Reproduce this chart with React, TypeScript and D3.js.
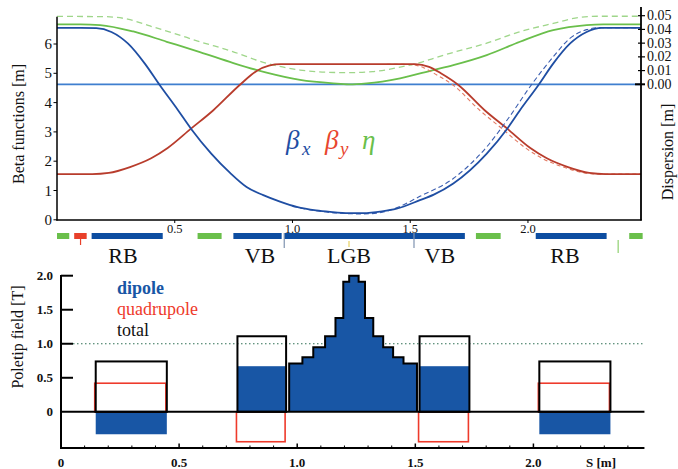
import React from "react";
import * as d3 from "d3";

// ---------- data ----------
// top panel: s [m], beta [m] / dispersion [m]
const betaX: [number, number][] = [[0,6.55],[0.10,6.55],[0.167,6.54],[0.231,6.41],[0.302,6.01],[0.373,5.33],[0.436,4.60],[0.514,3.74],[0.569,3.11],[0.655,2.26],[0.735,1.60],[0.805,1.12],[0.876,0.84],[0.947,0.62],[1.018,0.44],[1.10,0.32],[1.16,0.27],[1.24,0.23],[1.30,0.23],[1.38,0.29],[1.442,0.38],[1.541,0.67],[1.60,0.86],[1.683,1.24],[1.825,2.26],[1.912,3.11],[1.966,3.74],[2.044,4.59],[2.107,5.33],[2.178,6.01],[2.249,6.41],[2.313,6.55],[2.48,6.55]];
const betaXDesign: [number, number][] = [[1.0,0.46],[1.10,0.31],[1.16,0.25],[1.24,0.21],[1.30,0.20],[1.37,0.24],[1.44,0.40],[1.541,0.80],[1.683,1.41],[1.825,2.49],[1.92,3.50],[2.013,4.59],[2.107,5.56],[2.178,6.19],[2.249,6.49],[2.306,6.56],[2.48,6.55]];
const betaY: [number, number][] = [[0,1.56],[0.15,1.56],[0.22,1.60],[0.31,1.80],[0.40,2.10],[0.47,2.45],[0.569,3.11],[0.664,3.74],[0.777,4.61],[0.848,5.08],[0.90,5.26],[0.95,5.31],[1.24,5.31],[1.52,5.31],[1.58,5.22],[1.63,5.00],[1.703,4.61],[1.816,3.74],[1.912,3.11],[2.01,2.45],[2.08,2.10],[2.17,1.80],[2.26,1.60],[2.33,1.56],[2.48,1.56]];
const betaYDesign: [number, number][] = [[1.40,5.31],[1.50,5.30],[1.555,5.20],[1.605,4.98],[1.68,4.61],[1.795,3.74],[1.89,3.11],[1.99,2.45],[2.06,2.10],[2.15,1.80],[2.24,1.60],[2.31,1.56],[2.48,1.56]];
const eta: [number, number][] = [[0,0.0437],[0.10,0.0437],[0.183,0.0432],[0.324,0.0385],[0.466,0.031],[0.607,0.0235],[0.749,0.0155],[0.89,0.0085],[1.032,0.0032],[1.173,0.0007],[1.24,0.0],[1.315,0.0007],[1.457,0.0044],[1.598,0.0104],[1.683,0.014],[1.825,0.0213],[1.966,0.031],[2.107,0.0395],[2.249,0.0432],[2.32,0.0437],[2.48,0.0437]];
const etaDesign: [number, number][] = [[0,0.0495],[0.20,0.0493],[0.30,0.0475],[0.395,0.0425],[0.50,0.037],[0.607,0.031],[0.735,0.0245],[0.89,0.0153],[1.032,0.0104],[1.14,0.0088],[1.24,0.0085],[1.34,0.0092],[1.457,0.0125],[1.541,0.0158],[1.60,0.019],[1.669,0.0226],[1.825,0.030],[1.96,0.038],[2.107,0.0444],[2.22,0.0488],[2.31,0.0496],[2.48,0.0496]];

const betaTicks = [0, 1, 2, 3, 4, 5, 6];
const etaTicks = [0, 0.01, 0.02, 0.03, 0.04, 0.05];
const sTicksTop = [0.5, 1.0, 1.5, 2.0];

// lattice strip
const stripGreen: [number, number][] = [[0, 0.052], [0.597, 0.699], [1.779, 1.884], [2.43, 2.487]];
const stripRed: [number, number][] = [[0.073, 0.126]];
const stripBlue: [number, number][] = [[0.147, 0.449], [0.749, 0.954], [0.965, 1.732], [2.033, 2.334]];
const stripMarkers: { s: number; kind: string }[] = [{ s: 0.1, kind: "red" }, { s: 0.965, kind: "slate" }, { s: 1.24, kind: "yellow" }, { s: 1.516, kind: "slate" }, { s: 2.383, kind: "green" }];
const stripLabels: { s: number; name: string }[] = [{ s: 0.28, name: "RB" }, { s: 0.862, name: "VB" }, { s: 1.24, name: "LGB" }, { s: 1.626, name: "VB" }, { s: 2.157, name: "RB" }];

// bottom panel: magnets [s0, s1], dipole, quadrupole, total field [T]
const magnetStart = [0.147, 0.747, 1.518, 2.025];
const magnetEnd = [0.448, 0.953, 1.729, 2.326];
const magnetDipole = [-0.33, 0.67, 0.67, -0.33];
const magnetQuad = [0.42, -0.44, -0.44, 0.42];
const magnetTotal = [0.74, 1.11, 1.11, 0.74];
const lgbEdges = [0.966, 1.022, 1.068, 1.118, 1.162, 1.195, 1.220, 1.260, 1.287, 1.322, 1.364, 1.406, 1.450, 1.507];
const lgbField = [0.71, 0.80, 0.95, 1.11, 1.38, 1.91, 2.0, 1.91, 1.38, 1.11, 0.95, 0.80, 0.71];
const fieldTicks = [0, 0.5, 1.0, 1.5, 2.0];
const sTicksBottom = [0, 0.5, 1.0, 1.5, 2.0];

// ---------- styles ----------
const SERIF = "'Liberation Serif', 'Times New Roman', serif";
const C_BLUE = "#1f4ea3";
const C_RED = "#b83c2c";
const C_GREEN = "#6abf4b";
const C_GREEN_D = "#9fd68a";
const C_REF = "#3f7fcf";
const C_STRIP_BLUE = "#0d4da1";
const C_STRIP_RED = "#e8402a";
const C_DIPOLE = "#1856a5";
const C_QUAD = "#ee3a2b";

export default function App() {
  // top scales
  const xT = d3.scaleLinear().domain([0, 2.48]).range([57, 641]);
  const yB = d3.scaleLinear().domain([0, 6]).range([219.8, 44]);
  const yE = d3.scaleLinear().domain([0, 0.05]).range([84.3, 15.7]);
  // bottom scales
  const xB = d3.scaleLinear().domain([0, 2.48]).range([61, 646.8]);
  const yF = d3.scaleLinear().domain([0, 2.0]).range([411.8, 275.7]);

  const lineB = d3.line<[number, number]>().x(d => xT(d[0])).y(d => yB(d[1])).curve(d3.curveMonotoneX);
  const lineE = d3.line<[number, number]>().x(d => xT(d[0])).y(d => yE(d[1])).curve(d3.curveMonotoneX);

  const markerColor: Record<string, string> = { red: "#e8402a", slate: "#7f93b0", yellow: "#e8d060", green: "#8fd070" };

  // LGB staircase
  const lgbPts: [number, number][] = [[lgbEdges[0], 0]];
  lgbField.forEach((f, i) => { lgbPts.push([lgbEdges[i], f]); lgbPts.push([lgbEdges[i + 1], f]); });
  lgbPts.push([lgbEdges[lgbEdges.length - 1], 0]);
  const lgbPath = d3.line<[number, number]>().x(d => xB(d[0])).y(d => yF(d[1]))(lgbPts) || "";

  const minorTicks = d3.range(1, 25).map(i => i / 10).filter(v => Math.abs(v * 2 - Math.round(v * 2)) > 1e-6);

  return (
    <svg width={678} height={469} style={{ position: "absolute", left: 0, top: 0, background: "#fff" }} fontFamily={SERIF}>
      {/* ===== top panel ===== */}
      <line x1={xT(0)} x2={xT(2.48)} y1={yE(0)} y2={yE(0)} stroke={C_REF} strokeWidth={1.8} />
      <path d={lineE(etaDesign) || ""} fill="none" stroke={C_GREEN_D} strokeWidth={1.3} strokeDasharray="6,4" />
      <path d={lineE(eta) || ""} fill="none" stroke={C_GREEN} strokeWidth={1.8} />
      <path d={lineB(betaYDesign) || ""} fill="none" stroke="#e37a62" strokeWidth={1.1} strokeDasharray="4,3" />
      <path d={lineB(betaY) || ""} fill="none" stroke={C_RED} strokeWidth={1.8} />
      <path d={lineB(betaXDesign) || ""} fill="none" stroke="#3b5eb0" strokeWidth={1.1} strokeDasharray="5,3" />
      <path d={lineB(betaX) || ""} fill="none" stroke={C_BLUE} strokeWidth={1.8} />

      {/* axes */}
      <line x1={57} x2={57} y1={16.7} y2={220.5} stroke="#000" strokeWidth={1.5} />
      <line x1={56.3} x2={641.7} y1={220} y2={220} stroke="#000" strokeWidth={1.5} />
      <line x1={641} x2={641} y1={7} y2={220.5} stroke="#000" strokeWidth={1.8} />
      {betaTicks.map(t => (
        <g key={"bt" + t}>
          <line x1={53.5} x2={57} y1={yB(t)} y2={yB(t)} stroke="#000" strokeWidth={1} />
          <text x={52} y={yB(t) + 5} fontSize={15} textAnchor="end" fill="#111">{t}</text>
        </g>
      ))}
      {etaTicks.map(t => (
        <g key={"et" + t}>
          <line x1={t === 0 ? 635 : 638} x2={645} y1={yE(t)} y2={yE(t)} stroke="#000" strokeWidth={t === 0 ? 2 : 1.2} />
          <text x={647} y={yE(t) + 4.5} fontSize={14} fill="#111">{t.toFixed(2)}</text>
        </g>
      ))}
      {sTicksTop.map(t => (
        <g key={"st" + t}>
          <line x1={xT(t)} x2={xT(t)} y1={220} y2={223} stroke="#000" strokeWidth={1} />
          <text x={xT(t)} y={232.5} fontSize={12.5} textAnchor="middle" fill="#111">{t.toFixed(1)}</text>
        </g>
      ))}
      <text transform="translate(24,124) rotate(-90)" fontSize={16} textAnchor="middle" fill="#111">Beta functions [m]</text>
      <text transform="translate(673,152) rotate(-90)" fontSize={16} textAnchor="middle" fill="#111">Dispersion [m]</text>

      {/* beta / eta symbols */}
      <text x={286} y={149} fontSize={27} fontStyle="italic" fill={C_BLUE}>β</text>
      <text x={302} y={155} fontSize={19} fontStyle="italic" fill={C_BLUE}>x</text>
      <text x={325} y={149} fontSize={27} fontStyle="italic" fill="#e8452e">β</text>
      <text x={340} y={155} fontSize={19} fontStyle="italic" fill="#e8452e">y</text>
      <text x={362} y={149} fontSize={27} fontStyle="italic" fill={C_GREEN}>η</text>

      {/* ===== lattice strip ===== */}
      {stripGreen.map((b, i) => <rect key={"sg" + i} x={xT(b[0])} y={233} width={xT(b[1]) - xT(b[0])} height={6} fill={C_GREEN} />)}
      {stripRed.map((b, i) => <rect key={"sr" + i} x={xT(b[0])} y={233} width={xT(b[1]) - xT(b[0])} height={6} fill={C_STRIP_RED} />)}
      {stripBlue.map((b, i) => <rect key={"sb" + i} x={xT(b[0])} y={233} width={xT(b[1]) - xT(b[0])} height={6} fill={C_STRIP_BLUE} />)}
      {stripMarkers.map((m, i) => (
        <line key={"sm" + i} x1={xT(m.s)} x2={xT(m.s)}
          y1={m.kind === "red" ? 239 : m.kind === "yellow" ? 241 : m.kind === "green" ? 240 : 233}
          y2={m.kind === "red" ? 245 : m.kind === "yellow" ? 247 : m.kind === "green" ? 253 : 248}
          stroke={markerColor[m.kind]} strokeWidth={1.2} />
      ))}
      {stripLabels.map((l, i) => (
        <text key={"sl" + i} x={xT(l.s)} y={263} fontSize={22} textAnchor="middle" fill="#111">{l.name}</text>
      ))}

      {/* ===== bottom panel ===== */}
      <line x1={73} x2={xB(2.47)} y1={yF(1)} y2={yF(1)} stroke="#2f6f55" strokeWidth={1} strokeDasharray="1.5,2.5" />
      {magnetStart.map((s0, i) => {
        const s1 = magnetEnd[i];
        const x0 = xB(s0), x1 = xB(s1);
        const d = magnetDipole[i], q = magnetQuad[i], t = magnetTotal[i];
        return (
          <g key={"mg" + i}>
            <rect x={x0} width={x1 - x0} y={Math.min(yF(0), yF(d))} height={Math.abs(yF(d) - yF(0))} fill={C_DIPOLE} />
            <rect x={x0 - 1} width={x1 - x0} y={Math.min(yF(0), yF(q))} height={Math.abs(yF(q) - yF(0))} fill="none" stroke={C_QUAD} strokeWidth={1.6} />
            <rect x={x0} width={x1 - x0} y={yF(t)} height={yF(0) - yF(t)} fill="none" stroke="#000" strokeWidth={2} />
          </g>
        );
      })}
      <path d={lgbPath} fill={C_DIPOLE} stroke="#000" strokeWidth={2} strokeLinejoin="miter" />
      <line x1={61} x2={xB(2.47)} y1={yF(0)} y2={yF(0)} stroke="#000" strokeWidth={2} />

      {/* bottom axes */}
      <line x1={61} x2={61} y1={275} y2={449} stroke="#000" strokeWidth={2} />
      <line x1={60} x2={xB(2.47)} y1={448} y2={448} stroke="#000" strokeWidth={2} />
      {fieldTicks.map(t => (
        <g key={"ft" + t}>
          {t > 0 && <line x1={61} x2={73} y1={yF(t)} y2={yF(t)} stroke="#000" strokeWidth={2} />}
          <text x={53} y={yF(t) + 4.5} fontSize={13} fontWeight="bold" textAnchor="end" fill="#111">{t === 0 ? "0" : t.toFixed(1)}</text>
        </g>
      ))}
      {minorTicks.map(t => <line key={"mt" + t} x1={xB(t)} x2={xB(t)} y1={448} y2={445.5} stroke="#000" strokeWidth={1} />)}
      {sTicksBottom.map(t => (
        <g key={"sb" + t}>
          <line x1={xB(t)} x2={xB(t)} y1={448} y2={443.5} stroke="#000" strokeWidth={1.5} />
          <text x={xB(t)} y={467} fontSize={13} fontWeight="bold" textAnchor="middle" fill="#111">{t === 0 ? "0" : t.toFixed(1)}</text>
        </g>
      ))}
      <text x={601} y={467} fontSize={13} fontWeight="bold" textAnchor="middle" fill="#111">S [m]</text>
      <text transform="translate(23,337) rotate(-90)" fontSize={16} textAnchor="middle" fill="#111">Poletip field [T]</text>

      {/* legend */}
      <text x={117} y={294} fontSize={18} fontWeight="bold" fill={C_DIPOLE}>dipole</text>
      <text x={117} y={315} fontSize={18} fill={C_QUAD}>quadrupole</text>
      <text x={117} y={336} fontSize={18} fill="#111">total</text>
    </svg>
  );
}
